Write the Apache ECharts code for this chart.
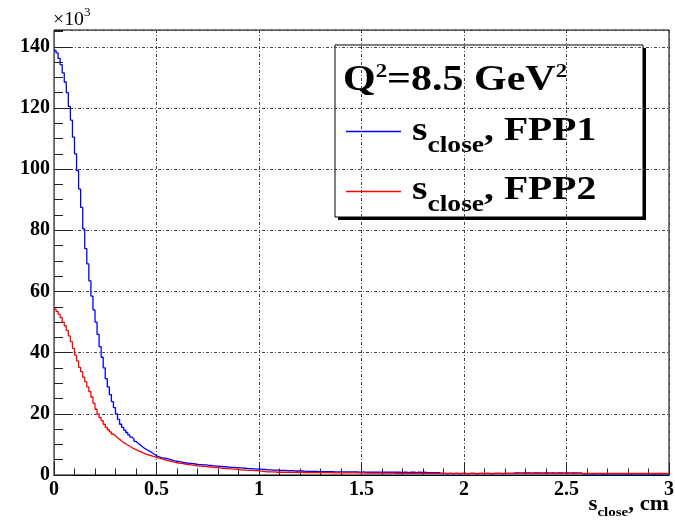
<!DOCTYPE html>
<html>
<head>
<meta charset="utf-8">
<script src="https://cdn.jsdelivr.net/npm/echarts@6/dist/echarts.min.js"></script>
<style>
  html, body { margin: 0; padding: 0; background: #fff; }
  #chart { width: 675px; height: 520px; }
</style>
</head>
<body>
<div id="chart"></div>
<script>
// Histogram binning of s_close (cm): 300 bins of 0.01 cm from 0 to 3
const binWidth = 0.01;
const xRange = [0, 3];
const xTickStep = 0.5;
const yMax = 145.5;          // counts, in units of 10^3
const yTickStep = 20;
const yMinorStep = 5;

// FPP1 counts per bin (x10^3)
const fpp1 = [
  138.8, 138.0, 136.2, 134.2, 131.5, 128.5, 125.0, 120.5, 116.0, 110.5,
  105.0, 99.5, 93.5, 87.5, 80.5, 74.0, 69.0, 63.5, 58.5, 54.0,
  50.0, 46.0, 42.0, 38.5, 35.0, 31.5, 28.8, 26.3, 24.0, 22.0,
  20.0, 18.2, 16.6, 15.6, 14.7, 13.9, 13.1, 12.4, 11.8, 11.0,
  10.4, 9.9, 9.3, 8.8, 8.4, 8.0, 7.7, 7.2, 6.8, 6.3,
  6.0, 5.8, 5.6, 5.5, 5.4, 5.2, 5.0, 4.8, 4.6, 4.5,
  4.4, 4.3, 4.1, 4.0, 3.9, 3.8, 3.8, 3.7, 3.6, 3.5,
  3.4, 3.4, 3.3, 3.3, 3.2, 3.1, 3.1, 3.0, 2.9, 2.9,
  2.8, 2.8, 2.7, 2.7, 2.6, 2.6, 2.5, 2.5, 2.4, 2.4,
  2.3, 2.3, 2.2, 2.2, 2.1, 2.1, 2.0, 2.0, 1.9, 1.9,
  1.9, 1.8, 1.8, 1.7, 1.7, 1.7, 1.6, 1.6, 1.6, 1.5,
  1.5, 1.5, 1.5, 1.4, 1.4, 1.4, 1.4, 1.3, 1.3, 1.3,
  1.3, 1.3, 1.2, 1.2, 1.2, 1.2, 1.2, 1.2, 1.1, 1.1,
  1.1, 1.1, 1.1, 1.1, 1.1, 1.1, 1.0, 1.0, 1.0, 1.0,
  1.0, 1.0, 1.0, 1.0, 1.0, 1.0, 1.0, 1.0, 0.9, 0.9,
  1.0, 0.9, 0.9, 0.9, 0.9, 0.9, 0.9, 0.9, 0.9, 0.9,
  0.9, 0.9, 0.9, 0.9, 0.9, 0.9, 0.9, 0.9, 0.9, 0.8,
  0.9, 0.9, 0.8, 0.9, 0.9, 0.9, 0.8, 0.9, 0.9, 0.8,
  0.9, 0.8, 0.8, 0.8, 0.8, 0.8, 0.8, 0.8, 0.5, 0.5,
  0.5, 0.4, 0.5, 0.5, 0.4, 0.5, 0.5, 0.4, 0.5, 0.5,
  0.5, 0.4, 0.5, 0.5, 0.5, 0.4, 0.5, 0.5, 0.5, 0.4,
  0.5, 0.5, 0.5, 0.4, 0.5, 0.5, 0.5, 0.5, 0.4, 0.5,
  0.5, 0.5, 0.5, 0.5, 0.7, 0.7, 0.7, 0.6, 0.7, 0.7,
  0.7, 0.7, 0.6, 0.7, 0.7, 0.7, 0.7, 0.6, 0.7, 0.7,
  0.7, 0.6, 0.7, 0.7, 0.6, 0.7, 0.7, 0.7, 0.6, 0.7,
  0.7, 0.6, 0.7, 0.7, 0.7, 0.6, 0.7, 0.4, 0.4, 0.4,
  0.4, 0.4, 0.3, 0.4, 0.4, 0.4, 0.4, 0.3, 0.4, 0.4,
  0.4, 0.4, 0.4, 0.3, 0.4, 0.4, 0.4, 0.4, 0.3, 0.4,
  0.4, 0.3, 0.4, 0.4, 0.4, 0.4, 0.3, 0.4, 0.4, 0.4,
  0.4, 0.4, 0.3, 0.4, 0.4, 0.3, 0.4, 0.4, 0.4, 0.4
];

// FPP2 counts per bin (x10^3)
const fpp2 = [
  54.3, 53.5, 52.6, 51.5, 50.0, 48.8, 47.3, 45.5, 43.6, 41.4,
  39.2, 37.3, 35.2, 33.8, 32.0, 30.5, 28.8, 27.3, 25.5, 23.5,
  21.5, 20.0, 18.8, 17.8, 16.6, 15.6, 14.8, 14.1, 13.4, 12.8,
  12.2, 11.7, 11.1, 10.6, 10.2, 9.8, 9.4, 9.0, 8.6, 8.3,
  8.0, 7.7, 7.4, 7.1, 6.8, 6.6, 6.4, 6.2, 6.0, 5.8,
  5.6, 5.4, 5.2, 5.0, 4.8, 4.6, 4.5, 4.3, 4.2, 4.0,
  3.9, 3.8, 3.7, 3.6, 3.5, 3.4, 3.3, 3.2, 3.1, 3.0,
  2.9, 2.9, 2.8, 2.8, 2.7, 2.6, 2.6, 2.5, 2.4, 2.4,
  2.3, 2.2, 2.2, 2.1, 2.1, 2.0, 2.0, 1.9, 1.9, 1.8,
  1.7, 1.7, 1.6, 1.6, 1.5, 1.5, 1.5, 1.4, 1.4, 1.4,
  1.3, 1.2, 1.1, 1.0, 1.0, 1.0, 1.0, 1.0, 0.9, 0.9,
  0.9, 0.9, 0.9, 0.9, 0.9, 0.9, 0.9, 0.9, 0.9, 0.9,
  0.9, 0.8, 0.9, 0.8, 0.8, 0.8, 0.8, 0.8, 0.8, 0.8,
  0.8, 0.8, 0.8, 0.8, 0.8, 0.7, 0.8, 0.7, 0.7, 0.7,
  0.7, 0.7, 0.7, 0.7, 0.7, 0.7, 0.7, 0.7, 0.7, 0.7,
  0.7, 0.6, 0.6, 0.6, 0.6, 0.6, 0.6, 0.6, 0.6, 0.6,
  0.6, 0.6, 0.6, 0.6, 0.6, 0.6, 0.5, 0.6, 0.5, 0.5,
  0.5, 0.5, 0.6, 0.5, 0.5, 0.5, 0.5, 0.6, 0.5, 0.5,
  0.5, 0.5, 0.5, 0.5, 0.5, 0.5, 0.5, 0.5, 0.5, 0.5,
  0.5, 0.5, 0.5, 0.5, 0.5, 0.5, 0.5, 0.5, 0.5, 0.5,
  0.5, 0.4, 0.5, 0.5, 0.5, 0.5, 0.4, 0.5, 0.5, 0.5,
  0.5, 0.5, 0.4, 0.5, 0.5, 0.5, 0.5, 0.5, 0.5, 0.5,
  0.5, 0.5, 0.5, 0.5, 0.5, 0.5, 0.5, 0.5, 0.5, 0.5,
  0.5, 0.5, 0.5, 0.5, 0.5, 0.5, 0.5, 0.5, 0.5, 0.5,
  0.5, 0.5, 0.5, 0.5, 0.5, 0.5, 0.5, 0.5, 0.5, 0.5,
  0.5, 0.5, 0.5, 0.5, 0.5, 0.5, 0.5, 0.5, 0.5, 0.5,
  0.5, 0.5, 0.5, 0.5, 0.5, 0.5, 0.5, 0.5, 0.5, 0.5,
  0.5, 0.5, 0.5, 0.5, 0.5, 0.5, 0.5, 0.5, 0.5, 0.5,
  0.5, 0.5, 0.5, 0.5, 0.5, 0.5, 0.5, 0.5, 0.5, 0.5,
  0.5, 0.5, 0.5, 0.5, 0.5, 0.5, 0.5, 0.5, 0.5, 0.5
];

// Turn bin contents into step points placed at each bin's lower edge
function histPoints(vals) {
  const pts = vals.map((v, i) => [+(i * binWidth).toFixed(4), v]);
  pts.push([+(vals.length * binWidth).toFixed(4), vals[vals.length - 1]]);
  return pts;
}

const serif = "'Liberation Serif', 'Times New Roman', serif";
const gridDash = { color: '#444', width: 1, type: [3, 2, 1, 2] };
const tickColor = '#222';

// Text runs with super/subscripts: each piece sits on its own baseline offset
const measureCtx = document.createElement('canvas').getContext('2d');
function textWidth(str, size, weight) {
  measureCtx.font = `${weight} ${size}px ${serif}`;
  return measureCtx.measureText(str).width;
}
function runWidth(pieces) {
  return pieces.reduce((w, p) => w + textWidth(p.t, p.size, p.weight || 'bold'), 0);
}
function textRun(x0, baseline, scaleX, pieces) {
  let cx = 0;
  const children = pieces.map(p => {
    const weight = p.weight || 'bold';
    const el = {
      type: 'text', x: cx, y: baseline + (p.dy || 0) - 0.34 * p.size,
      style: {
        text: p.t, fontFamily: serif, fontSize: p.size, fontWeight: weight,
        fill: '#000', align: 'left', verticalAlign: 'middle'
      }
    };
    cx += textWidth(p.t, p.size, weight);
    return el;
  });
  return { type: 'group', x: x0, y: 0, scaleX: scaleX, children: children };
}

const multiplier = [
  { t: '×10', size: 18, weight: 'normal' },
  { t: '3', size: 12, weight: 'normal', dy: -9 }
];
const xTitle = [
  { t: 's', size: 20 },
  { t: 'close', size: 13, dy: 5.5 },
  { t: ', cm', size: 20 }
];
const legendHeader = [
  { t: 'Q', size: 35 },
  { t: '2', size: 19, dy: -14 },
  { t: '=8.5 GeV', size: 35 },
  { t: '2', size: 19, dy: -14 }
];
const legendRow = label => [
  { t: 's', size: 33 },
  { t: 'close', size: 23, dy: 10.5 },
  { t: ', ' + label, size: 33 }
];

const xTitleScale = 1.15;
const xTitleLeft = 669 - runWidth(xTitle) * xTitleScale;

const chart = echarts.init(document.getElementById('chart'), null, { renderer: 'canvas' });

chart.setOption({
  animation: false,
  backgroundColor: '#fff',
  grid: {
    left: 54, right: 6, top: 30, bottom: 45,
    show: true, borderColor: '#000', borderWidth: 1,
    outerBoundsMode: 'none'
  },
  xAxis: [{
    type: 'value', min: xRange[0], max: xRange[1], interval: xTickStep,
    axisLine: { show: true, onZero: false, lineStyle: { color: '#000', width: 1 } },
    axisTick: { show: true, inside: true, length: 13, lineStyle: { color: tickColor } },
    minorTick: { show: true, splitNumber: 5, length: 6.5, lineStyle: { color: tickColor } },
    axisLabel: {
      margin: 5, fontFamily: serif, fontWeight: 'bold', fontSize: 20, color: '#000',
      formatter: v => String(v)
    },
    splitLine: { show: true, lineStyle: gridDash },
    minorSplitLine: { show: false }
  }],
  yAxis: [{
    type: 'value', min: 0, max: yMax, interval: yTickStep,
    axisLine: { show: true, onZero: false, lineStyle: { color: '#666', width: 1 } },
    axisTick: { show: true, inside: true, length: 18, lineStyle: { color: tickColor } },
    axisLabel: {
      margin: 4, fontFamily: serif, fontWeight: 'bold', fontSize: 20, color: '#000',
      showMaxLabel: false, formatter: v => String(v)
    },
    splitLine: { show: true, lineStyle: gridDash }
  }, {
    // minor ticks on the count axis
    type: 'value', min: 0, max: yMax, interval: yMinorStep, position: 'left',
    axisLine: { show: false },
    axisTick: { show: true, inside: true, length: 9, lineStyle: { color: tickColor } },
    axisLabel: { show: false },
    splitLine: { show: false }
  }],
  series: [{
    name: 'FPP1', type: 'line', step: 'end', data: histPoints(fpp1),
    symbol: 'none', showSymbol: false, z: 3,
    lineStyle: { color: '#0000ff', width: 1.3 }, itemStyle: { color: '#0000ff' }
  }, {
    name: 'FPP2', type: 'line', step: 'end', data: histPoints(fpp2),
    symbol: 'none', showSymbol: false, z: 4,
    lineStyle: { color: '#ff0000', width: 1.3 }, itemStyle: { color: '#ff0000' }
  }],
  graphic: [
    Object.assign(textRun(53, 26, 1.1, multiplier), { z: 50 }),
    Object.assign(textRun(xTitleLeft, 511.5, xTitleScale, xTitle), { z: 50 }),
    // legend box with drop shadow
    {
      type: 'group', z: 100,
      children: [
        { type: 'rect', shape: { x: 338, y: 48, width: 308, height: 172 }, style: { fill: '#000' } },
        { type: 'rect', shape: { x: 335, y: 45, width: 308, height: 172 }, style: { fill: '#fff', stroke: '#000', lineWidth: 1 } },
        textRun(343, 93, 1.2, legendHeader),
        { type: 'line', shape: { x1: 346, y1: 131.5, x2: 401, y2: 131.5 }, style: { stroke: '#0000ff', lineWidth: 1.3 } },
        textRun(412, 143, 1.2, legendRow('FPP1')),
        { type: 'line', shape: { x1: 346, y1: 191.5, x2: 401, y2: 191.5 }, style: { stroke: '#ff0000', lineWidth: 1.3 } },
        textRun(412, 202, 1.2, legendRow('FPP2'))
      ]
    }
  ]
});
</script>
</body>
</html>
